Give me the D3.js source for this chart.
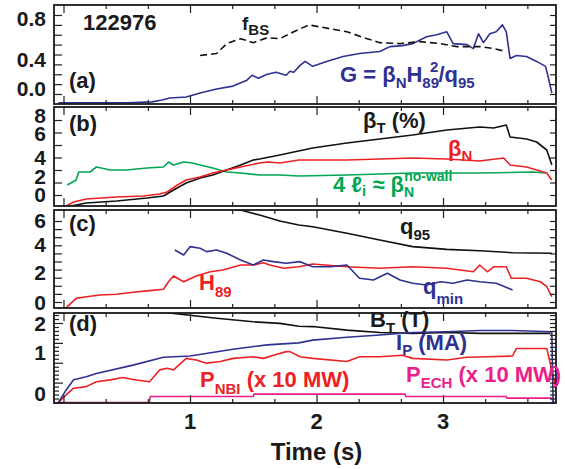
<!DOCTYPE html>
<meta charset="utf-8">
<title>122976</title>
<script src="https://d3js.org/d3.v7.min.js"></script>
<style>
    body { margin: 0; background: #fff; }
    text { font-family: "Liberation Sans", Arial, Helvetica, sans-serif; font-weight: bold; }
</style>
<body>
<div id="chart"></div>
<script>
    // ---- data: [time (s), value] ----
    // panel (a)
    var G = [[-0.04,-0.09],[0.5,-0.09],[0.7,-0.08],[0.78,-0.06],[0.84,-0.04],[0.97,-0.03],[1.08,0.01],[1.21,0.05],[1.34,0.08],
        [1.45,0.14],[1.49,0.19],[1.54,0.16],[1.61,0.20],[1.68,0.22],[1.76,0.19],[1.79,0.23],[1.82,0.22],[1.87,0.29],[1.91,0.33],
        [1.97,0.28],[2.08,0.33],[2.21,0.38],[2.34,0.41],[2.50,0.43],[2.58,0.48],[2.68,0.49],[2.76,0.51],[2.87,0.58],[2.95,0.60],
        [3.03,0.63],[3.08,0.51],[3.19,0.50],[3.24,0.46],[3.28,0.61],[3.32,0.52],[3.37,0.61],[3.42,0.63],[3.47,0.70],[3.50,0.63],
        [3.53,0.36],[3.58,0.39],[3.66,0.38],[3.74,0.33],[3.81,0.28],[3.83,0.18],[3.86,0.01]];
    var fBS = [[1.08,0.39],[1.21,0.41],[1.29,0.51],[1.40,0.56],[1.50,0.52],[1.61,0.57],[1.71,0.56],[1.82,0.63],[1.94,0.70],
        [2.11,0.66],[2.24,0.63],[2.40,0.56],[2.50,0.52],[2.66,0.51],[2.82,0.53],[2.98,0.51],[3.11,0.48],[3.29,0.48],[3.40,0.46],[3.50,0.43]];
    // panel (b)
    var betaT = [[0.02,-1.2],[0.18,-0.8],[0.42,-0.6],[0.66,-0.3],[0.79,-0.1],[0.87,0.5],[0.97,1.2],[1.08,1.7],[1.18,2.0],[1.29,2.5],
        [1.40,3.0],[1.50,3.5],[1.55,3.6],[1.71,4.0],[1.82,4.3],[1.97,4.7],[2.24,5.2],[2.50,5.6],[2.76,6.0],[3.03,6.5],[3.29,6.8],
        [3.40,6.7],[3.50,7.0],[3.53,5.8],[3.66,5.6],[3.74,5.3],[3.82,4.5],[3.86,3.0]];
    var betaN = [[0.02,-1.1],[0.08,-0.7],[0.18,-0.4],[0.42,-0.2],[0.63,-0.1],[0.76,0.1],[0.82,0.3],[0.90,1.0],[0.97,1.5],[1.08,1.8],
        [1.18,2.2],[1.29,2.5],[1.40,2.8],[1.55,3.2],[1.61,3.3],[1.71,3.2],[1.86,3.5],[1.97,3.5],[2.24,3.5],[2.50,3.6],[2.76,3.7],
        [3.03,3.6],[3.29,3.4],[3.48,3.7],[3.53,3.0],[3.66,2.8],[3.74,2.5],[3.82,2.2],[3.86,1.5]];
    var fourLi = [[0.03,1.0],[0.10,1.5],[0.12,2.3],[0.21,2.3],[0.26,2.8],[0.37,2.5],[0.50,2.5],[0.66,2.7],[0.79,2.8],[0.83,3.3],
        [0.87,3.0],[0.95,3.3],[1.02,3.2],[1.08,3.0],[1.18,2.7],[1.29,2.3],[1.40,2.2],[1.55,2.0],[1.71,2.0],[1.86,1.9],[2.24,2.0],
        [2.76,2.2],[3.29,2.2],[3.71,2.3],[3.82,2.2]];
    // panel (c)
    var q95 = [[1.25,7.0],[1.40,6.81],[1.55,6.44],[1.71,6.0],[1.86,5.70],[1.97,5.58],[2.24,5.09],[2.50,4.59],[2.76,4.10],
        [3.03,3.90],[3.29,3.80],[3.55,3.65],[3.86,3.61]];
    var H89 = [[0.02,-0.44],[0.10,0.27],[0.18,0.39],[0.29,0.52],[0.42,0.57],[0.55,0.72],[0.68,0.84],[0.79,0.94],[0.83,1.50],
        [0.87,1.93],[0.95,1.50],[1.05,1.93],[1.16,2.24],[1.26,2.37],[1.40,2.74],[1.50,2.74],[1.58,2.91],[1.63,2.74],[1.74,2.50],
        [1.86,2.61],[1.97,2.81],[2.24,2.61],[2.50,2.50],[2.76,2.61],[3.03,2.50],[3.24,2.24],[3.29,2.74],[3.35,2.24],[3.40,2.61],
        [3.50,2.61],[3.54,1.76],[3.66,1.76],[3.77,1.50],[3.82,1.13],[3.86,0.39]];
    var qmin = [[0.88,3.85],[0.95,3.48],[1.00,4.10],[1.08,3.98],[1.13,3.73],[1.21,3.85],[1.29,3.61],[1.40,3.11],[1.50,2.74],
        [1.58,3.11],[1.66,2.99],[1.76,2.87],[1.87,2.99],[1.97,2.61],[2.11,2.61],[2.24,2.74],[2.34,1.76],[2.45,1.63],[2.56,2.13],
        [2.66,1.63],[2.76,1.39],[2.87,1.26],[2.98,1.50],[3.08,1.39],[3.19,1.63],[3.29,1.50],[3.42,1.39],[3.55,0.89]];
    // panel (d)
    var BT = [[0.5,2.35],[0.87,2.24],[1.21,2.12],[1.50,2.03],[1.71,1.99],[1.86,1.92],[1.97,1.91],[2.24,1.82],[2.50,1.76],
        [2.76,1.74],[3.03,1.76],[3.29,1.74],[3.55,1.74],[3.85,1.74]];
    var IP = [[-0.04,0],[0.02,0.31],[0.08,0.57],[0.18,0.65],[0.26,0.73],[0.55,0.94],[0.79,1.14],[1.00,1.17],[1.34,1.34],
        [1.61,1.45],[1.86,1.50],[1.97,1.57],[2.24,1.64],[2.50,1.70],[2.76,1.76],[3.03,1.78],[3.29,1.81],[3.55,1.81],[3.86,1.78],
        [3.87,0],[3.92,0]];
    var PNBI = [[-0.04,0],[0.02,0.19],[0.08,0.36],[0.18,0.40],[0.26,0.52],[0.37,0.57],[0.47,0.63],[0.55,0.58],[0.68,0.52],
        [0.76,0.82],[0.82,0.86],[0.87,0.82],[0.97,1.11],[1.05,1.07],[1.13,0.99],[1.24,1.03],[1.34,1.11],[1.50,1.15],[1.58,1.11],
        [1.66,1.19],[1.76,1.28],[1.79,1.28],[1.87,1.15],[1.97,1.11],[2.24,1.03],[2.34,1.15],[2.50,1.15],[2.68,1.19],[2.76,1.11],
        [3.03,1.07],[3.19,1.14],[3.35,1.15],[3.55,1.17],[3.58,1.36],[3.82,1.36],[3.92,0]];
    var PECH = [[-0.04,0],[0.68,0],[0.685,0.15],[1.50,0.15],[1.505,0.21],[2.70,0.21],[2.705,0.15],[3.50,0.15],[3.505,0.11],
        [3.86,0.11],[3.87,0],[3.92,0]];

    // axis labels
    var xTickLabels = [1, 2, 3];
    var aLabels = [0.8, 0.4, 0.0], bLabels = [8, 6, 4, 2, 0], cLabels = [6, 4, 2, 0], dLabels = [2, 1, 0];

    var navy = "#2e3192", red = "#ed2024", green = "#00a651", magenta = "#ec1e8c";

    var svg = d3.select("#chart").append("svg")
        .attr("width", 565).attr("height", 469);

    var x = d3.scaleLinear().domain([-0.075, 3.893]).range([54, 556]);

    // labOff: small shifts of the printed tick labels, as placed in the original figure
    var panels = [
        {id: "a", top: 5, bottom: 104, y: d3.scaleLinear().domain([0, 0.8]).range([94, 15]),
            labels: aLabels, labOff: [3, 4.5, -6], fmt: d3.format(".1f"), ticks: d3.range(0, 0.85, 0.1), len: 8,
            series: [{d: G, c: navy}, {d: fBS, c: "#111", dash: "7,4"}]},
        {id: "b", top: 107, bottom: 206, y: d3.scaleLinear().domain([0, 8]).range([195, 115]),
            labels: bLabels, labOff: [0, -2, 2, 1, -1], fmt: d3.format("d"), ticks: d3.range(0, 8, 1.25), len: 8,
            series: [{d: fourLi, c: green}, {d: betaT, c: "#111"}, {d: betaN, c: red}]},
        {id: "c", top: 210, bottom: 308, y: d3.scaleLinear().domain([0, 6]).range([302, 221]),
            labels: cLabels, labOff: [-1, -4, -3, 0], fmt: d3.format("d"), ticks: d3.range(0, 6.1, 0.6), len: 8,
            series: [{d: q95, c: "#111"}, {d: H89, c: red}, {d: qmin, c: navy}]},
        {id: "d", top: 313, bottom: 403, y: d3.scaleLinear().domain([0, 2]).range([402.5, 323]),
            labels: dLabels, labOff: [0, -10, -9.5], fmt: d3.format("d"), ticks: d3.range(0, 2.25, 0.1), len: 5,
            series: [{d: BT, c: "#111"}, {d: PECH, c: magenta}, {d: PNBI, c: red}, {d: IP, c: navy}]}
    ];

    var xMinor = d3.range(0, 3.9, 1 / 3);

    panels.forEach(function (p) {
        var g = svg.append("g");
        svg.append("clipPath").attr("id", "clip-" + p.id)
            .append("rect").attr("x", 54).attr("y", p.top)
            .attr("width", 502).attr("height", p.bottom - p.top);

        var line = d3.line()
            .x(function (d) { return x(d[0]); })
            .y(function (d) { return p.y(d[1]); });

        var lines = g.append("g").attr("clip-path", "url(#clip-" + p.id + ")");
        p.series.forEach(function (s) {
            lines.append("path")
                .attr("d", line(s.d))
                .attr("fill", "none")
                .attr("stroke", s.c)
                .attr("stroke-width", 1.6)
                .attr("stroke-linejoin", "round")
                .attr("stroke-dasharray", s.dash || null);
        });

        // y ticks, inward on both sides
        var yl = g.append("g").attr("transform", "translate(54,0)")
            .call(d3.axisLeft(p.y).tickValues(p.ticks).tickSize(-p.len).tickFormat(""));
        var yr = g.append("g").attr("transform", "translate(556,0)")
            .call(d3.axisRight(p.y).tickValues(p.ticks).tickSize(-6).tickFormat(""));
        // x ticks top and bottom
        var xb = g.append("g").attr("transform", "translate(0," + p.bottom + ")")
            .call(d3.axisBottom(x).tickValues(xMinor).tickSize(-4).tickFormat(""));
        var xt = g.append("g").attr("transform", "translate(0," + p.top + ")")
            .call(d3.axisTop(x).tickValues(xMinor).tickSize(-4).tickFormat(""));
        [yl, yr, xb, xt].forEach(function (a) {
            a.select(".domain").remove();
            a.selectAll("line").attr("stroke", "#222").attr("stroke-width", 1.2);
        });
        xb.selectAll(".tick line").filter(function (d) { return Math.abs(d - Math.round(d)) < 1e-6; }).attr("y2", -8);
        xt.selectAll(".tick line").filter(function (d) { return Math.abs(d - Math.round(d)) < 1e-6; }).attr("y2", 8);
        if (p.id === "d") {
            yl.selectAll(".tick line").filter(function (d) { return Math.abs(d * 2 - Math.round(d * 2)) < 1e-6; }).attr("x2", 9);
        }

        g.append("rect")
            .attr("x", 54).attr("y", p.top)
            .attr("width", 502).attr("height", p.bottom - p.top)
            .attr("fill", "none").attr("stroke", "#1a1a1a").attr("stroke-width", 1.8);

        g.selectAll(".ylab").data(p.labels).enter().append("text")
            .attr("x", 46)
            .attr("y", function (d, i) { return p.y(d) + 7.5 + p.labOff[i]; })
            .attr("text-anchor", "end")
            .style("font-size", "21px")
            .attr("fill", "#1a1a1a")
            .text(function (d) { return p.fmt(d); });

        g.append("text").attr("x", 69).attr("y", {a: 88, b: 131, c: 231, d: 331}[p.id])
            .style("font-size", "22px").attr("fill", "#1a1a1a")
            .text("(" + p.id + ")");
    });

    // time axis labels
    svg.selectAll(".xlab").data(xTickLabels).enter().append("text")
        .attr("x", function (d) { return x(d); }).attr("y", 429)
        .attr("text-anchor", "middle").style("font-size", "22px").attr("fill", "#1a1a1a")
        .text(function (d) { return d; });
    svg.append("text").attr("x", x(2)).attr("y", 460)
        .attr("text-anchor", "middle").style("font-size", "24px").attr("fill", "#1a1a1a")
        .text("Time (s)");

    // annotation with sub/superscripts: parts = [text, shift, size, dx]
    function rich(x0, y0, color, parts) {
        var t = svg.append("text").attr("x", x0).attr("y", y0).attr("fill", color);
        var cur = 0;
        parts.forEach(function (p) {
            var sh = p[1] || 0;
            t.append("tspan").text(p[0])
                .attr("dy", sh - cur)
                .attr("dx", p[3] || 0)
                .style("font-size", (p[2] || 22) + "px");
            cur = sh;
        });
        return t;
    }

    rich(83, 30, "#1a1a1a", [["122976"]]);
    rich(242, 30, "#1a1a1a", [["f", 0, 19], ["BS", 5, 15]]);
    rich(340, 82, navy, [["G = \u03b2"], ["N", 6, 15], ["H", 0], ["89", 6, 15], ["2", -10, 15, -9], ["/q", 0], ["95", 6, 15]]);
    rich(363, 128, "#1a1a1a", [["\u03b2"], ["T", 5, 15], [" (%)", 0]]);
    rich(448, 156, red, [["\u03b2"], ["N", 5, 15]]);
    rich(333, 192, green, [["4 \u2113"], ["i", 4, 15], [" \u2248 \u03b2", 0], ["N", 5, 14], ["no-wall", -11, 14, -10]]);
    rich(400, 234, "#1a1a1a", [["q"], ["95", 6, 15]]);
    rich(199, 290, red, [["H"], ["89", 7, 15]]);
    rich(423, 294, navy, [["q"], ["min", 10, 15]]);
    rich(370, 327, "#1a1a1a", [["B"], ["T", 6, 15], [" (T)", 0]]);
    rich(396, 350, navy, [["I"], ["P", 5, 15], [" (MA)", 0]]);
    rich(200, 387, red, [["P"], ["NBI", 7, 15], [" (x 10 MW)", 0]]);
    rich(406, 382, magenta, [["P"], ["ECH", 6, 15], [" (x 10 MW)", 0]]);
</script>
</body>
